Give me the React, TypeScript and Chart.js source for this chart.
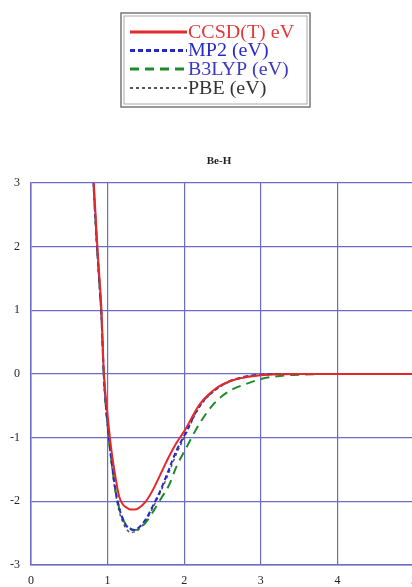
import React, { useEffect, useRef } from "react";
import { Chart, registerables } from "chart.js";

Chart.register(...registerables);

// Be-H bond length (x) and relative energies (eV) for each method
const bondLength = [0.8, 0.82, 0.85, 0.87, 0.9, 0.92, 0.95, 1.0, 1.05, 1.1, 1.15, 1.2, 1.25, 1.3, 1.35, 1.4, 1.5, 1.6, 1.7, 1.8, 1.9, 2.0, 2.2, 2.4, 2.6, 2.8, 3.0, 3.25, 3.5, 4.0, 4.5, 5.0];
const ccsdt = [3.5, 3.0, 2.35, 1.92, 1.4, 1.0, 0.05, -0.65, -1.2, -1.6, -1.92, -2.05, -2.1, -2.13, -2.13, -2.11, -2.0, -1.8, -1.55, -1.3, -1.08, -0.9, -0.48, -0.24, -0.11, -0.05, -0.02, -0.005, 0, 0, 0, 0];
const mp2 = [3.4, 2.9, 2.25, 1.85, 1.3, 0.9, 0.0, -0.8, -1.35, -1.8, -2.1, -2.28, -2.39, -2.44, -2.45, -2.42, -2.28, -2.05, -1.8, -1.5, -1.2, -0.97, -0.5, -0.25, -0.11, -0.04, -0.01, 0, 0, 0, 0, 0];
const b3lyp = [3.4, 2.9, 2.25, 1.85, 1.3, 0.9, -0.02, -0.82, -1.37, -1.8, -2.1, -2.28, -2.38, -2.43, -2.45, -2.44, -2.33, -2.15, -1.95, -1.75, -1.45, -1.22, -0.78, -0.45, -0.26, -0.16, -0.08, -0.03, -0.01, 0, 0, 0];
const pbe = [3.35, 2.85, 2.2, 1.8, 1.25, 0.85, -0.05, -0.85, -1.4, -1.85, -2.15, -2.33, -2.44, -2.49, -2.48, -2.45, -2.3, -2.08, -1.83, -1.55, -1.25, -1.0, -0.52, -0.26, -0.12, -0.05, -0.02, 0, 0, 0, 0, 0];

const xTicks = ["0", "1", "2", "3", "4", "5"];
const yTicks = ["-3", "-2", "-1", "0", "1", "2", "3"];

const chartTitle = "Be-H";

const seriesNames = ["CCSD(T) eV", "MP2 (eV)", "B3LYP (eV)", "PBE (eV)"];
const seriesColors = ["#e32a2a", "#2828cc", "#1f8a2a", "#555555"];
const textColors = ["#e03a3a", "#2a2acc", "#3a3ac0", "#333333"];
const seriesDashes: number[][] = [[], [5, 3], [9, 6], [3, 3]];
const seriesWidths = [2, 2, 2, 1.5];
const legendWidths = [3, 3, 3, 2];

const GRID = "#6c6cc8";

const toPoints = (ys: number[]) => ys.map((y, i) => ({ x: bondLength[i], y }));

// Framed legend and title drawn above the plot
const annotations = {
  id: "annotations",
  afterDraw(chart: any) {
    const ctx = chart.ctx as CanvasRenderingContext2D;
    ctx.save();
    // legend frame (double grey border)
    ctx.strokeStyle = "#777";
    ctx.lineWidth = 1.5;
    ctx.strokeRect(121, 13, 189, 94);
    ctx.lineWidth = 1;
    ctx.strokeStyle = "#aaa";
    ctx.strokeRect(124, 16, 183, 88);

    const rows = [32, 50.5, 69, 88];
    rows.forEach((y, i) => {
      ctx.beginPath();
      ctx.setLineDash(seriesDashes[i]);
      ctx.strokeStyle = seriesColors[i];
      ctx.lineWidth = legendWidths[i];
      ctx.moveTo(130, y);
      ctx.lineTo(187, y);
      ctx.stroke();
      ctx.setLineDash([]);
      ctx.fillStyle = textColors[i];
      ctx.font = "20px 'Liberation Serif', serif";
      ctx.textBaseline = "middle";
      ctx.textAlign = "left";
      // slightly compressed vertically so the four rows fit the frame
      ctx.save();
      ctx.translate(188, y + 1);
      ctx.scale(1, 0.9);
      ctx.fillText(seriesNames[i], 0, 0);
      ctx.restore();
    });

    ctx.fillStyle = "#222";
    ctx.font = "bold 11px 'Liberation Serif', serif";
    ctx.textAlign = "center";
    ctx.textBaseline = "middle";
    ctx.fillText(chartTitle, 219, 161);
    ctx.restore();
  },
};

export default function App() {
  const ref = useRef<HTMLCanvasElement | null>(null);

  useEffect(() => {
    if (!ref.current) return;
    const chart = new Chart(ref.current, {
      type: "line",
      data: {
        datasets: [ccsdt, mp2, b3lyp, pbe].map((ys, i) => ({
          label: seriesNames[i],
          data: toPoints(ys),
          borderColor: seriesColors[i],
          borderWidth: seriesWidths[i],
          borderDash: seriesDashes[i],
          pointRadius: 0,
          fill: false,
          cubicInterpolationMode: "monotone" as const,
        })),
      },
      options: {
        animation: false,
        responsive: false,
        maintainAspectRatio: false,
        layout: { padding: { top: 183, left: 0, right: 9, bottom: 0 } },
        plugins: {
          legend: { display: false },
          title: { display: false },
          tooltip: { enabled: false },
        },
        scales: {
          x: {
            type: "linear",
            min: 0,
            max: 5,
            afterBuildTicks: (scale: any) => {
              scale.ticks = xTicks.map((t) => ({ value: Number(t) }));
            },
            afterFit: (scale: any) => {
              scale.height = 22;
            },
            ticks: {
              padding: 9,
              color: "#222",
              font: { family: "'Liberation Serif', serif", size: 12 },
              callback: (v: any) => xTicks[Number(v)] ?? "",
            },
            grid: { color: GRID, lineWidth: 1.2, drawTicks: false },
            border: { color: GRID, width: 1.5 },
          },
          y: {
            type: "linear",
            min: -3,
            max: 3,
            afterBuildTicks: (scale: any) => {
              scale.ticks = yTicks.map((t) => ({ value: Number(t) }));
            },
            afterFit: (scale: any) => {
              scale.width = 31;
            },
            ticks: {
              padding: 11,
              color: "#222",
              font: { family: "'Liberation Serif', serif", size: 12 },
              callback: (v: any) => String(v),
            },
            grid: { color: GRID, lineWidth: 1.2, drawTicks: false },
            border: { color: GRID, width: 1.5 },
          },
        },
      },
      plugins: [annotations],
    });
    return () => chart.destroy();
  }, []);

  return (
    <div style={{ position: "fixed", left: 0, top: 0, width: 426, height: 587, background: "#fff" }}>
      <canvas ref={ref} width={426} height={587} style={{ display: "block" }} />
    </div>
  );
}
